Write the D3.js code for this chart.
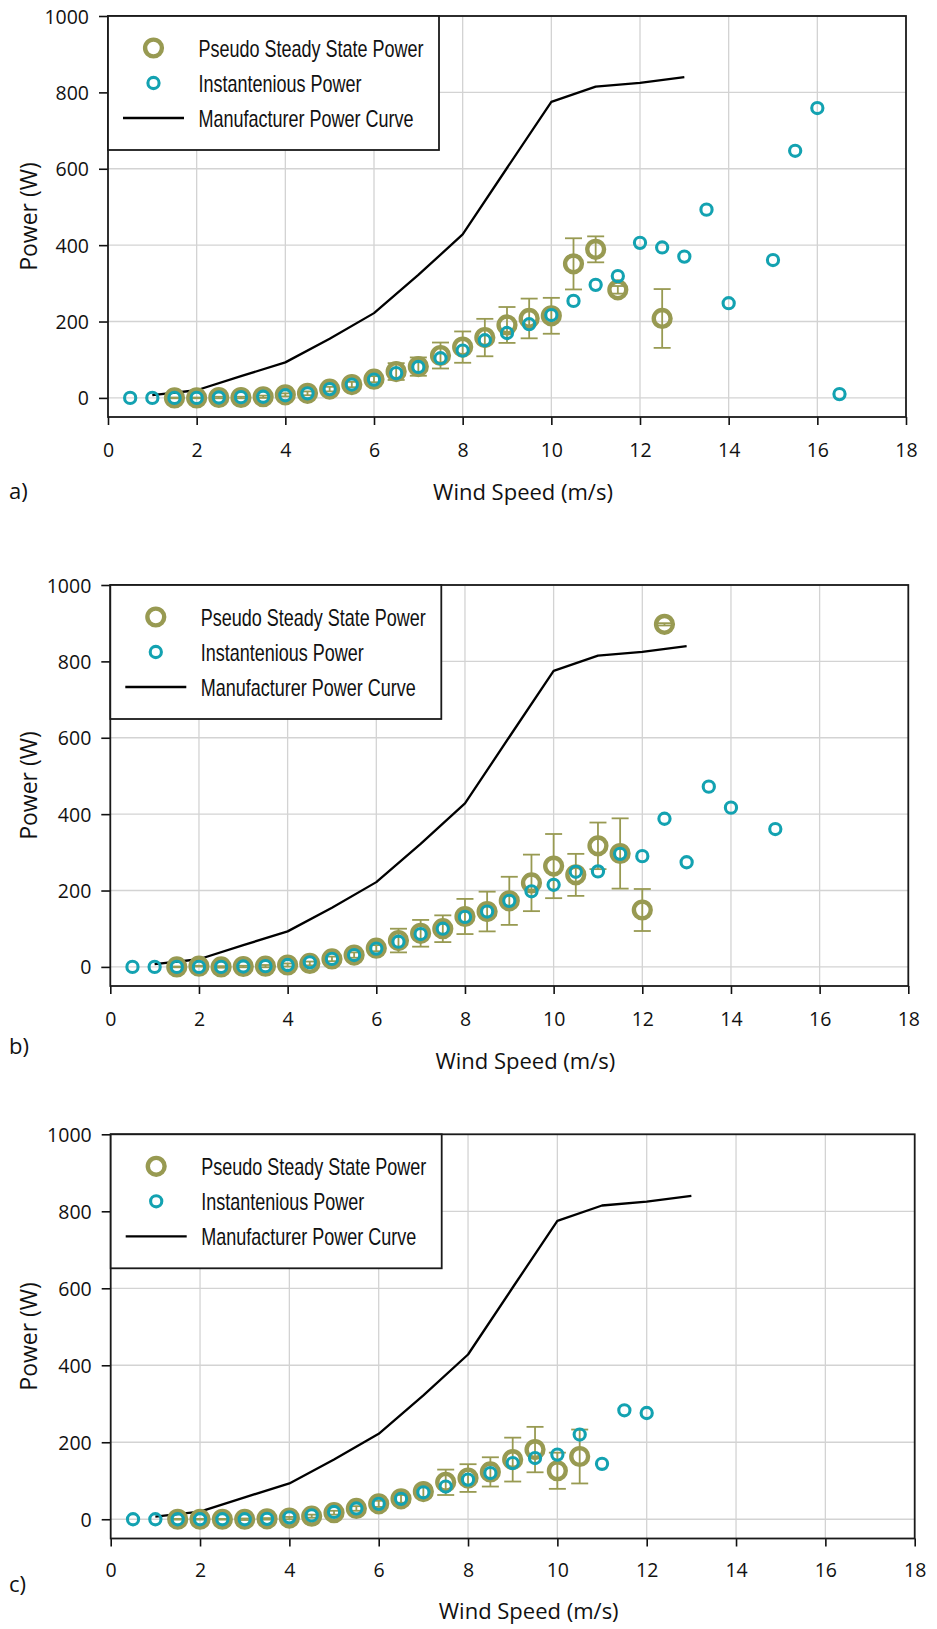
<!DOCTYPE html>
<html>
<head>
<meta charset="utf-8">
<script src="https://cdn.jsdelivr.net/npm/d3@7"></script>
<style>
    body { margin: 0; background: #fff; }
    .tick-label { font-family: "Open Sans", sans-serif; font-size: 19.5px; fill: #111; }
    .axis-title { font-family: "Open Sans", sans-serif; font-size: 22px; fill: #111; }
    .legend-text { font-family: "Liberation Sans", Arial, sans-serif; font-size: 24px; fill: #111; }
</style>
</head>
<body>
<div id="chart"></div>
<script>
// Manufacturer power curve (shared by all panels)
const mfrSpeed = [1, 2, 3, 4, 5, 6, 7, 8, 9, 10, 11, 12, 13];
const mfrPower = [7, 20, 57, 93, 155, 222, 322, 428, 602, 775, 815, 825, 840];

// Panel a
const instSpeedA = [0.5, 1, 1.5, 2, 2.5, 3, 3.5, 4, 4.5, 5, 5.5, 6, 6.5, 7, 7.5, 8, 8.5, 9, 9.5, 10, 10.5, 11, 11.5, 12, 12.5, 13, 13.5, 14, 15, 15.5, 16, 16.5];
const instPowerA = [0, 0, 0, 0, 1, 2, 3, 7, 12, 23, 35, 48, 65, 81, 104, 124, 151, 170, 193, 217, 254, 296, 319, 406, 394, 370, 493, 248, 361, 647, 759, 10];
const pssSpeedA = [1.5, 2, 2.5, 3, 3.5, 4, 4.5, 5, 5.5, 6, 6.5, 7, 7.5, 8, 8.5, 9, 9.5, 10, 10.5, 11, 11.5, 12.5];
const pssPowerA = [0, 0, 1, 1, 3, 8, 12, 23, 35, 49, 69, 82, 111, 133, 158, 191, 208, 215, 351, 389, 283, 208];
const pssErrA = [1, 1, 2, 2, 3, 4, 5, 6, 7, 8, 22, 24, 34, 41, 49, 47, 52, 47, 67, 34, 10, 77];

// Panel b
const instSpeedB = [0.5, 1, 1.5, 2, 2.5, 3, 3.5, 4, 4.5, 5, 5.5, 6, 6.5, 7, 7.5, 8, 8.5, 9, 9.5, 10, 10.5, 11, 11.5, 12, 12.5, 13, 13.5, 14, 15];
const instPowerB = [0, 0, 0, 0, 0, 1, 2, 5, 12, 21, 31, 48, 66, 86, 100, 131, 145, 173, 198, 215, 249, 250, 296, 290, 388, 274, 472, 417, 361];
const pssSpeedB = [1.5, 2, 2.5, 3, 3.5, 4, 4.5, 5, 5.5, 6, 6.5, 7, 7.5, 8, 8.5, 9, 9.5, 10, 10.5, 11, 11.5, 12, 12.5];
const pssPowerB = [0, 2, 0, 1, 2, 5, 9, 21, 31, 49, 69, 88, 100, 132, 145, 173, 220, 264, 241, 317, 297, 149, 897];
const pssErrB = [1, 1, 2, 2, 3, 4, 5, 6, 7, 8, 31, 35, 35, 46, 52, 63, 74, 84, 55, 61, 92, 55, 3];

// Panel c
const instSpeedC = [0.5, 1, 1.5, 2, 2.5, 3, 3.5, 4, 4.5, 5, 5.5, 6, 6.5, 7, 7.5, 8, 8.5, 9, 9.5, 10, 10.5, 11, 11.5, 12];
const instPowerC = [0, 0, 0, 0, 0, 0, 1, 5, 10, 19, 28, 40, 53, 70, 85, 103, 120, 146, 159, 168, 220, 144, 283, 276];
const pssSpeedC = [1.5, 2, 2.5, 3, 3.5, 4, 4.5, 5, 5.5, 6, 6.5, 7, 7.5, 8, 8.5, 9, 9.5, 10, 10.5];
const pssPowerC = [0, 0, 0, 0, 1, 3, 8, 17, 28, 40, 53, 72, 96, 107, 123, 155, 181, 126, 163];
const pssErrC = [1, 1, 1, 2, 2, 3, 4, 5, 6, 8, 10, 15, 33, 36, 38, 57, 59, 47, 70];

const xTicks = [0, 2, 4, 6, 8, 10, 12, 14, 16, 18];
const yTicks = [0, 200, 400, 600, 800, 1000];
const legendLabels = ["Pseudo Steady State Power", "Instantenious Power", "Manufacturer Power Curve"];

const OLIVE = "#989a52";
const TEAL = "#13a2b1";

const zip = (xs, ys, es) => xs.map((x, i) => ({ x: x, y: ys[i], e: es ? es[i] : 0 }));

class PowerPanel {
    constructor(svg, box, tag) {
        // box: pixel frame of the plotting area
        this.svg = svg;
        this.box = box;
        this.tag = tag;
        this.x = d3.scaleLinear().domain([0, 18]).range([box.left, box.right]);
        this.y = d3.scaleLinear().domain([-50, 1000]).range([box.bottom, box.top]);
        this.g = svg.append("g");
    }

    drawFrame() {
        const { x, y, g, box } = this;

        // Grid lines
        g.append("g").selectAll("line")
            .data(xTicks.slice(1, -1))
            .join("line")
            .attr("x1", d => x(d)).attr("x2", d => x(d))
            .attr("y1", box.top).attr("y2", box.bottom)
            .attr("stroke", "#d3d3d3").attr("stroke-width", 1.3);
        g.append("g").selectAll("line")
            .data(yTicks)
            .join("line")
            .attr("x1", box.left).attr("x2", box.right)
            .attr("y1", d => y(d)).attr("y2", d => y(d))
            .attr("stroke", "#d3d3d3").attr("stroke-width", 1.3);

        // Axes
        const xAxis = d3.axisBottom(x).tickValues(xTicks).tickSize(8).tickPadding(13).tickFormat(d3.format("d"));
        const yAxis = d3.axisLeft(y).tickValues(yTicks).tickSize(9).tickPadding(10).tickFormat(d3.format("d"));

        const xa = g.append("g").attr("transform", `translate(0,${box.bottom})`).call(xAxis);
        const ya = g.append("g").attr("transform", `translate(${box.left},0)`).call(yAxis);
        [xa, ya].forEach(a => {
            a.select(".domain").remove();
            a.selectAll("line").attr("stroke", "#111").attr("stroke-width", 1.6);
            a.selectAll("text").attr("class", "tick-label").attr("font-size", null).attr("font-family", null);
        });
        xa.selectAll("text").attr("dy", null).attr("y", box.labelDy);
        ya.selectAll("text").attr("dy", "0.36em");

        // Plot border
        g.append("rect")
            .attr("x", box.left).attr("y", box.top)
            .attr("width", box.right - box.left).attr("height", box.bottom - box.top)
            .attr("fill", "none").attr("stroke", "#1a1a1a").attr("stroke-width", 1.8);

        // Titles
        g.append("text").attr("class", "axis-title")
            .attr("text-anchor", "middle")
            .attr("x", (box.left + box.right) / 2 + 16)
            .attr("y", box.bottom + box.titleDy)
            .text("Wind Speed (m/s)");
        g.append("text").attr("class", "axis-title")
            .attr("text-anchor", "middle")
            .style("font-size", "23px")
            .attr("transform", `translate(37,${(box.top + box.bottom) / 2}) rotate(-90)`)
            .text("Power (W)");
        g.append("text").attr("class", "axis-title")
            .attr("x", 9)
            .attr("y", box.bottom + box.tagDy)
            .text(this.tag);
    }

    drawSeries(mfr, pss, inst) {
        const { x, y, g } = this;

        const line = d3.line().x(d => x(d.x)).y(d => y(d.y));
        g.append("path")
            .datum(mfr)
            .attr("d", line)
            .attr("fill", "none")
            .attr("stroke", "#000")
            .attr("stroke-width", 2.3)
            .attr("stroke-linejoin", "round");

        // Error bars of the pseudo steady state points
        const bars = g.append("g").attr("stroke", OLIVE).attr("stroke-width", 1.8);
        const capW = 8.5;
        bars.selectAll(".stem").data(pss).join("line")
            .attr("x1", d => x(d.x)).attr("x2", d => x(d.x))
            .attr("y1", d => y(d.y - d.e)).attr("y2", d => y(d.y + d.e));
        bars.selectAll(".capHi").data(pss).join("line")
            .attr("x1", d => x(d.x) - capW).attr("x2", d => x(d.x) + capW)
            .attr("y1", d => y(d.y + d.e)).attr("y2", d => y(d.y + d.e));
        bars.selectAll(".capLo").data(pss).join("line")
            .attr("x1", d => x(d.x) - capW).attr("x2", d => x(d.x) + capW)
            .attr("y1", d => y(d.y - d.e)).attr("y2", d => y(d.y - d.e));

        g.append("g").selectAll("circle").data(pss).join("circle")
            .attr("cx", d => x(d.x)).attr("cy", d => y(d.y))
            .attr("r", 8.4)
            .attr("fill", "none").attr("stroke", OLIVE).attr("stroke-width", 4.4);

        g.append("g").selectAll("circle").data(inst).join("circle")
            .attr("cx", d => x(d.x)).attr("cy", d => y(d.y))
            .attr("r", 5.6)
            .attr("fill", "none").attr("stroke", TEAL).attr("stroke-width", 3.1);
    }

    drawLegend() {
        const { g, box } = this;
        const w = 331, h = 134;
        const lg = g.append("g").attr("transform", `translate(${box.left},${box.top})`);
        lg.append("rect")
            .attr("width", w).attr("height", h)
            .attr("fill", "#fff").attr("stroke", "#1a1a1a").attr("stroke-width", 1.8);

        const rows = [32, 67, 102];
        lg.append("circle").attr("cx", 45.5).attr("cy", rows[0]).attr("r", 8.4)
            .attr("fill", "none").attr("stroke", OLIVE).attr("stroke-width", 4.4);
        lg.append("circle").attr("cx", 45.5).attr("cy", rows[1]).attr("r", 5.6)
            .attr("fill", "none").attr("stroke", TEAL).attr("stroke-width", 3.1);
        lg.append("line").attr("x1", 15).attr("x2", 76).attr("y1", rows[2]).attr("y2", rows[2])
            .attr("stroke", "#000").attr("stroke-width", 2.3);

        // condensed look: regular sans squeezed horizontally
        lg.selectAll(".legend-text").data(legendLabels).join("text")
            .attr("class", "legend-text")
            .attr("transform", (d, i) => `translate(90.5,${rows[i] + 8.5}) scale(0.75,1)`)
            .text(d => d);
    }
}

const svg = d3.select("#chart").append("svg")
    .attr("width", 937)
    .attr("height", 1629);

const mfr = zip(mfrSpeed, mfrPower);

const panels = [
    {
        tag: "a)",
        box: { left: 108, right: 906, top: 16, bottom: 417, labelDy: 40, titleDy: 83, tagDy: 82 },
        pss: zip(pssSpeedA, pssPowerA, pssErrA),
        inst: zip(instSpeedA, instPowerA)
    },
    {
        tag: "b)",
        box: { left: 110.3, right: 908.3, top: 585, bottom: 986, labelDy: 39.5, titleDy: 82.5, tagDy: 68 },
        pss: zip(pssSpeedB, pssPowerB, pssErrB),
        inst: zip(instSpeedB, instPowerB)
    },
    {
        tag: "c)",
        box: { left: 110.7, right: 914.7, top: 1134.3, bottom: 1538.5, labelDy: 38, titleDy: 80, tagDy: 53 },
        pss: zip(pssSpeedC, pssPowerC, pssErrC),
        inst: zip(instSpeedC, instPowerC)
    }
];

panels.forEach(p => {
    const panel = new PowerPanel(svg, p.box, p.tag);
    panel.drawFrame();
    panel.drawSeries(mfr, p.pss, p.inst);
    panel.drawLegend();
});
</script>
</body>
</html>
